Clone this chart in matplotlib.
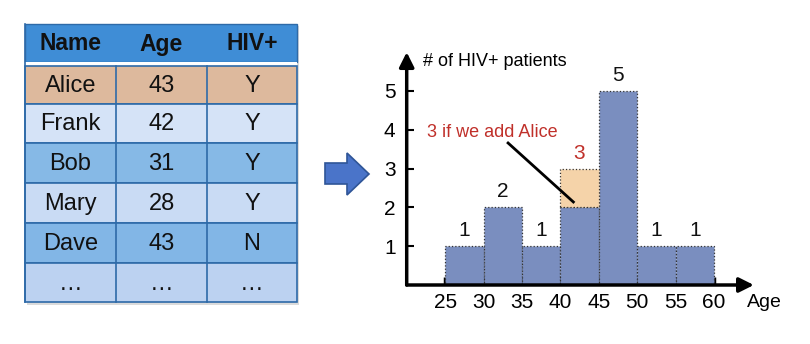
import numpy as np
import matplotlib
matplotlib.use("Agg")
import matplotlib.pyplot as plt
from matplotlib.patches import Rectangle, Polygon

plt.rcParams["font.family"] = ["Liberation Sans", "DejaVu Sans"]

# ---- data ----
col_names = ["Name", "Age", "HIV+"]
names = ["Alice", "Frank", "Bob", "Mary", "Dave", "\u2026"]
ages = ["43", "42", "31", "28", "43", "\u2026"]
hiv = ["Y", "Y", "Y", "Y", "N", "\u2026"]
row_colors = ["#ddb99d", "#d5e3f7", "#86b9e6", "#c9dbf4", "#82b6e6", "#bcd2f1"]

bin_edges = [25, 30, 35, 40, 45, 50, 55, 60]
counts = [1, 2, 1, 2, 5, 1, 1]
alice_extra = [0, 0, 0, 1, 0, 0, 0]

W, H = 810, 344
fig = plt.figure(figsize=(W / 100, H / 100), dpi=100)

# ---- table + arrow, drawn in pixel coords ----
tx = fig.add_axes([0, 0, 1, 1])
tx.set_xlim(0, W); tx.set_ylim(H, 0); tx.axis("off")

col_x = [25, 116, 207, 297]
hdr_top, hdr_bot = 24, 62
row_y = [66, 104, 143, 183, 223, 263, 302]

# drop shadow
tx.add_patch(Rectangle((27, 26), 272, 279, color="#b8b8b8", alpha=0.5, lw=0))
tx.add_patch(Rectangle((25, hdr_top), 272, hdr_bot - hdr_top, fc="#3f8dd6", ec="#2e6aa8", lw=1))
tx.add_patch(Rectangle((25, hdr_bot), 272, row_y[0] - hdr_bot, fc="white", lw=0))
for j, name in enumerate(col_names):
    tx.text((col_x[j] + col_x[j + 1]) / 2, (hdr_top + hdr_bot) / 2 + 1, name,
            ha="center", va="center", fontsize=16.5, fontweight="bold", color="#111")
for i in range(len(names)):
    y0, y1 = row_y[i], row_y[i + 1]
    tx.add_patch(Rectangle((25, y0), 272, y1 - y0, fc=row_colors[i], ec="#2e6aa8", lw=1.2))
    for j, val in enumerate([names[i], ages[i], hiv[i]]):
        tx.text((col_x[j] + col_x[j + 1]) / 2, (y0 + y1) / 2 + 1, val,
                ha="center", va="center", fontsize=17, color="#111")
for x in col_x[1:3]:
    tx.plot([x, x], [row_y[0], row_y[-1]], color="#2e6aa8", lw=1.2)
tx.plot([25, 25], [hdr_top, row_y[-1]], color="#2e6aa8", lw=1.2)

# block arrow
tx.add_patch(Polygon([(325, 163), (347, 163), (347, 153), (369, 174),
                      (347, 195), (347, 184), (325, 184)],
                     closed=True, fc="#4a74c9", ec="#2f5597", lw=1.2))

# ---- histogram ----
ppx, ppy = 7.68, 38.8
ax = fig.add_axes([406.7 / W, 59 / H, 46 * ppx / W, 6.2 * ppy / H])
ax.set_xlim(20, 66); ax.set_ylim(0, 6.2)
for s in ax.spines.values():
    s.set_visible(False)
ax.patch.set_alpha(0)

ax.bar(bin_edges[:-1], counts, width=5, align="edge", color="#7a8ebf",
       edgecolor="#333333", linestyle=":", lw=0.9, zorder=2)
ax.bar(bin_edges[:-1], alice_extra, bottom=counts, width=5, align="edge",
       color=["#f5d3a9" if a else "none" for a in alice_extra],
       edgecolor=["#333333" if a else "none" for a in alice_extra],
       linestyle=":", lw=0.9, zorder=2)

for left, c, a in zip(bin_edges[:-1], counts, alice_extra):
    if a:
        ax.text(left + 2.5, c + a + 0.15, str(c + a), ha="center", va="bottom",
                fontsize=15, color="#c0302a")
    else:
        ax.text(left + 2.5, c + 0.16, str(c), ha="center", va="bottom",
                fontsize=15, color="#111")

arrow = dict(arrowstyle="-|>", color="black", lw=2.5, mutation_scale=22,
             shrinkA=0, shrinkB=0)
ax.annotate("", xy=(65.2, 0), xytext=(20, 0), arrowprops=arrow, annotation_clip=False)
ax.annotate("", xy=(20, 6.0), xytext=(20, 0), arrowprops=arrow, annotation_clip=False)

ax.set_xticks(bin_edges)
ax.set_yticks([1, 2, 3, 4, 5])
ax.tick_params(axis="x", direction="in", length=6, width=2.5, pad=6, labelsize=15)
ax.tick_params(axis="y", direction="in", length=5, width=1.5, pad=8, labelsize=15)

ax.text(22.1, 5.75, "# of HIV+ patients", ha="left", va="center", fontsize=13)
ax.text(64.3, -0.44, "Age", ha="left", va="center", fontsize=14, clip_on=False)
ax.text(22.6, 3.94, "3 if we add Alice", ha="left", va="center", fontsize=13,
        color="#c0302a")
ax.plot([33.2, 41.7], [3.66, 2.14], color="black", lw=2, zorder=3)

fig.savefig("out.png", dpi=100)
